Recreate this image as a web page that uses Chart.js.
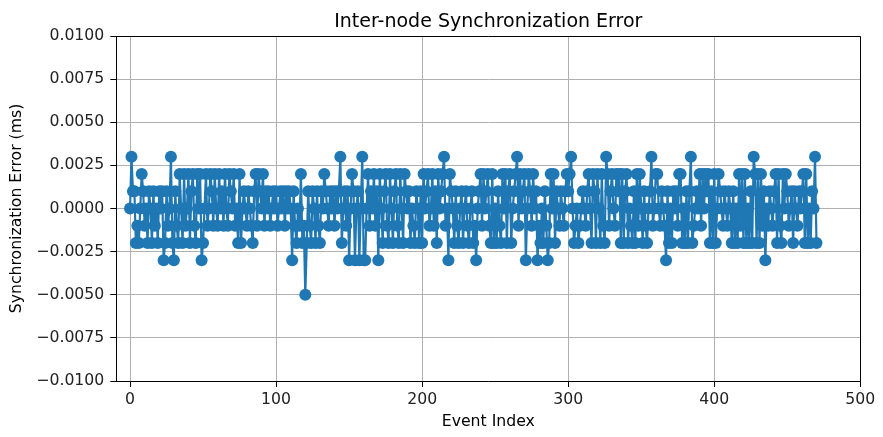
<!DOCTYPE html>
<html><head><meta charset="utf-8">
<script src="https://cdn.jsdelivr.net/npm/chart.js@4.4.1/dist/chart.umd.min.js"></script>
<style>html,body{margin:0;padding:0;background:#fff;}#wrap{width:883px;height:437px;}</style>
</head><body><div id="wrap"><canvas id="c" width="883" height="437"></canvas></div>
<script>
const chartTitle = "Inter-node Synchronization Error";
const xAxisLabel = "Event Index";
const yAxisLabel = "Synchronization Error (ms)";
const xTickValues = [0, 100, 200, 300, 400, 500];
const xTickLabels = ["0", "100", "200", "300", "400", "500"];
const yTickValues = [-0.01, -0.0075, -0.005, -0.0025, 0, 0.0025, 0.005, 0.0075, 0.01];
const yTickLabels = ["\u22120.0100", "\u22120.0075", "\u22120.0050", "\u22120.0025", "0.0000", "0.0025", "0.0050", "0.0075", "0.0100"];
const syncError = [
0,0.003,0.001,0.001,-0.002,-0.001,-0.002,0,0.002,0.001,
-0.001,0,-0.002,0.001,0,-0.002,0.001,-0.001,0,-0.002,
0.001,0,0.001,-0.003,-0.002,0.001,-0.001,0,0.003,-0.002,
-0.003,0.001,-0.001,-0.002,0.002,0,-0.002,0.002,-0.001,0,
0.002,-0.002,0.001,0.002,-0.001,-0.002,0.002,0,0.002,-0.003,
-0.002,0,0.002,-0.001,0,0.002,0.001,-0.001,0.002,0,
-0.001,0.002,0,0.001,-0.001,0.002,0,-0.001,0.002,0.001,
0,0.002,-0.001,0,-0.002,0.002,-0.002,0,0.001,0,
-0.001,0.001,0,-0.001,-0.002,0.001,0.002,-0.001,0.002,0.001,
0,0.002,-0.001,0.001,0,0.001,-0.001,0,0.001,0,
0.001,-0.001,0,0.001,0,0.001,-0.001,0.001,0,0.001,
0,-0.003,0.001,-0.001,-0.002,0,-0.001,0.002,-0.002,-0.001,
-0.005,-0.002,0.001,-0.001,-0.002,0.001,0,-0.002,0.001,-0.001,
-0.002,0.001,0,0.002,0.001,0,-0.001,0.001,0,0.001,
-0.001,0.001,0,0.001,0.003,-0.002,0,0.001,-0.001,0.001,
-0.003,0,0.002,0.001,-0.003,0,0.001,-0.003,0,0.003,
-0.003,-0.003,0,0.002,-0.001,0.001,0,0.002,-0.001,0.001,
-0.003,0.002,0,-0.002,0.001,0.002,-0.001,-0.002,0.002,0,
-0.002,0.001,0.002,-0.001,-0.002,0.002,0,-0.002,0.002,0.001,
0,0.001,-0.002,0,-0.001,-0.002,0.001,0,-0.002,0.001,
-0.002,0.002,0,0.001,0.002,-0.001,0,0.002,-0.001,0.001,
-0.002,0.002,0,0.001,0.002,0.003,-0.001,0,-0.003,0.002,
0.001,0,-0.002,0.001,-0.001,-0.002,0,0.001,-0.002,0,
0.001,-0.001,-0.002,0,0.001,-0.002,-0.001,-0.003,0,0.001,
0.002,-0.001,0.002,0,0.001,0.002,-0.001,-0.002,0.002,-0.002,
0,-0.002,0.001,-0.001,-0.002,0.002,0,0.002,-0.002,0.001,
0.002,-0.002,0,0.001,0.002,0.003,-0.001,0.002,0,0.001,
0.002,-0.003,0,0.002,0.001,-0.001,0.002,0,0.001,-0.003,
-0.001,-0.002,0,-0.002,0.001,-0.001,-0.003,-0.002,0.002,0,
0.002,-0.002,0.001,0,-0.001,0.001,0,-0.001,0.001,0.002,
0.001,0.002,0.003,0,-0.002,-0.001,0,-0.002,-0.001,0,
0.001,0,-0.001,0.001,0.002,0,-0.002,0.002,0.001,-0.002,
0.002,0,-0.002,0.002,-0.001,-0.002,0.003,0.002,-0.001,0.001,
0.002,0,-0.001,0.002,0.001,0.002,-0.002,0.002,-0.002,0.001,
0.002,-0.002,0,-0.001,-0.002,0.001,-0.002,0.002,-0.001,0.002,
0,-0.002,0.001,-0.001,-0.002,0,0.001,0.003,-0.001,0,
0.002,0.002,0,-0.001,0.001,0,-0.001,-0.003,0.001,-0.002,
0,-0.002,0.001,0,0.001,-0.001,0.002,0.002,-0.002,0,
-0.002,0.001,-0.002,0.001,0.003,-0.002,-0.001,0,0.001,0,
0.002,-0.001,0.002,0,0.002,0.001,0.002,-0.002,0.001,-0.002,
0.002,-0.002,0,0.002,0.001,0,-0.001,0.001,0,-0.001,
0.001,0,-0.002,0.001,-0.002,0,-0.002,0.002,-0.001,0.002,
-0.002,0.002,-0.002,0,-0.002,0.001,-0.002,0.003,0.002,-0.002,
0.002,-0.002,0.002,-0.001,0.001,-0.003,0,-0.001,0.001,0,
-0.001,0.001,0.002,-0.002,0.002,-0.001,-0.002,0.002,0,0.002,
0.001,-0.001,0,0.001,-0.002,0.001,0,-0.001,0.001,0,
0.001,0.002,-0.002,0.002,-0.002,0,-0.002,0.001,0,0.003,-0.002
];

const FONT = "'DejaVu Sans', sans-serif";
const points = syncError.map((v, i) => ({ x: i, y: v }));

const spinePlugin = {
  id: 'spines',
  afterDraw(chart) {
    const { ctx, chartArea: a } = chart;
    ctx.save();
    ctx.strokeStyle = '#000';
    ctx.lineWidth = 1;
    ctx.beginPath();
    ctx.moveTo(Math.round(a.left) + 0.5, Math.round(a.top) + 0.5);
    ctx.lineTo(Math.round(a.right) + 0.5, Math.round(a.top) + 0.5);
    ctx.lineTo(Math.round(a.right) + 0.5, Math.round(a.bottom) + 0.5);
    ctx.stroke();
    // title centred over the plot area, like matplotlib
    ctx.fillStyle = '#000';
    ctx.font = "19px " + FONT;
    ctx.textAlign = 'center';
    ctx.textBaseline = 'alphabetic';
    ctx.fillText(chartTitle, (a.left + a.right) / 2, 27);
    ctx.restore();
  }
};

new Chart(document.getElementById('c'), {
  type: 'line',
  data: {
    datasets: [{
      data: points,
      borderColor: '#1f77b4',
      backgroundColor: '#1f77b4',
      borderWidth: 2.2,
      pointRadius: 6,
      pointBorderWidth: 0,
      pointBackgroundColor: '#1f77b4',
      fill: false,
      tension: 0
    }]
  },
  options: {
    responsive: false,
    devicePixelRatio: 1,
    animation: false,
    layout: { padding: { left: 0, right: 22.7, top: 36, bottom: 0 } },
    plugins: {
      legend: { display: false },
      tooltip: { enabled: false },
      title: { display: false }
    },
    scales: {
      x: {
        type: 'linear',
        min: -9.4,
        max: 500,
        afterBuildTicks: s => { s.ticks = xTickValues.map(v => ({ value: v })); },
        afterFit: s => { s.height = 56; },
        ticks: {
          autoSkip: false,
          maxRotation: 0,
          padding: 4,
          color: '#222',
          font: { family: FONT, size: 15.7 },
          callback: (v) => xTickLabels[xTickValues.indexOf(v)]
        },
        grid: { color: '#b0b0b0', lineWidth: 1, tickColor: '#000', tickLength: 6 },
        border: { display: true, color: '#000', width: 1 },
        title: {
          display: true,
          text: xAxisLabel,
          color: '#000',
          font: { family: FONT, size: 15.7 },
          padding: { top: 0, bottom: 6 }
        }
      },
      y: {
        type: 'linear',
        min: -0.01,
        max: 0.01,
        afterBuildTicks: s => { s.ticks = yTickValues.map(v => ({ value: v })); },
        afterFit: s => { s.width = 116.3; },
        ticks: {
          autoSkip: false,
          padding: 6,
          color: '#222',
          font: { family: FONT, size: 15.7 },
          callback: (v) => yTickLabels[yTickValues.indexOf(v)]
        },
        grid: { color: '#b0b0b0', lineWidth: 1, tickColor: '#000', tickLength: 6 },
        border: { display: true, color: '#000', width: 1 },
        title: {
          display: true,
          text: yAxisLabel,
          color: '#000',
          font: { family: FONT, size: 15.7 },
          padding: { top: 8, bottom: 0 }
        }
      }
    }
  },
  plugins: [spinePlugin]
});
</script>
</body></html>
